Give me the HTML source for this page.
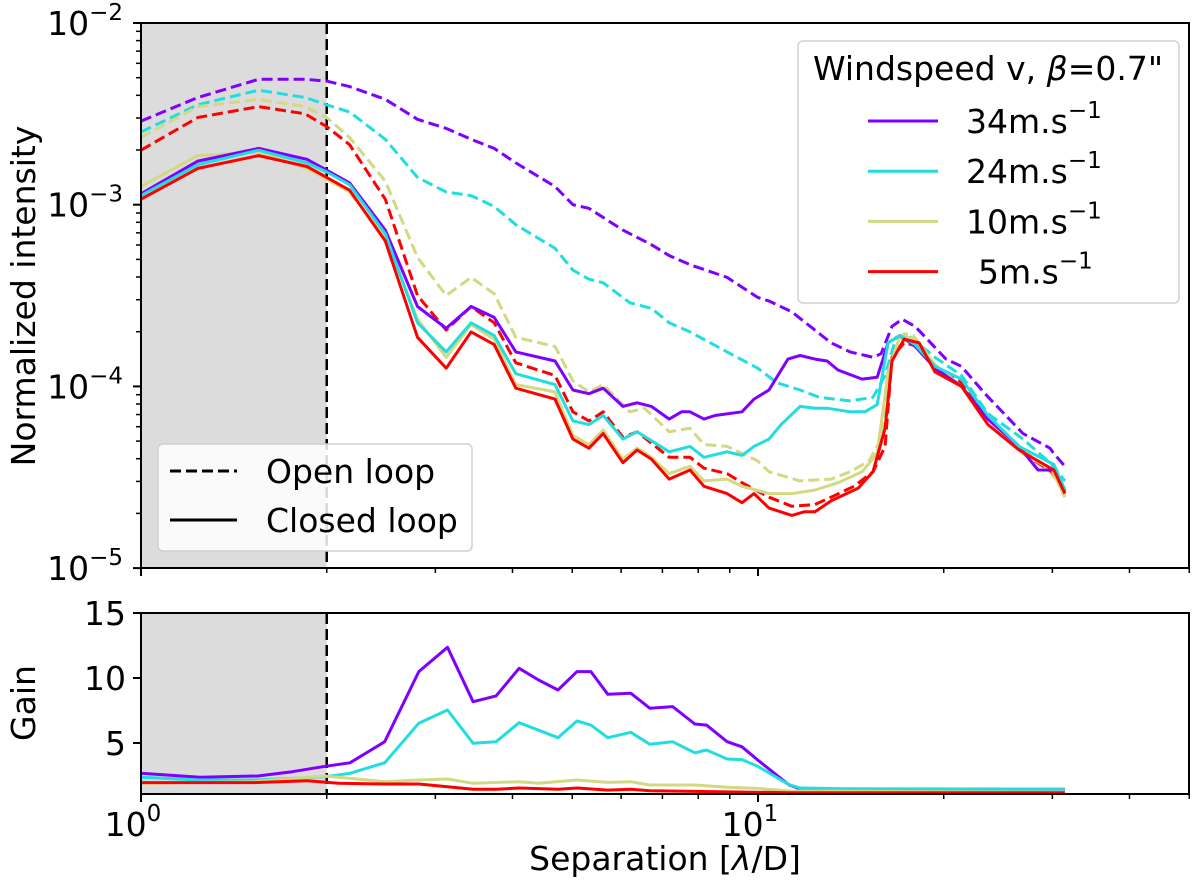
<!DOCTYPE html>
<html><head><meta charset="utf-8"><style>
html,body{margin:0;padding:0;background:#fff;}
svg{display:block;font-family:"DejaVu Sans","Liberation Sans",sans-serif;}
</style></head><body>
<svg id="chart" width="1200" height="889" viewBox="0 0 1200 889" xmlns="http://www.w3.org/2000/svg">
<g id="topPanel"></g>
<g id="botPanel"></g>
<text x="0" y="0" font-size="33" text-anchor="middle" transform="translate(35,296) rotate(-90)">Normalized intensity</text>
<text x="0" y="0" font-size="33" text-anchor="middle" transform="translate(35,703) rotate(-90)">Gain</text>
<text x="665" y="870" font-size="33" text-anchor="middle">Separation [<tspan font-style="italic">λ</tspan>/D]</text>
</svg>
<script>
// ---- data (log10 of normalized intensity) ----
const sepOpen34=[1,1.236,1.551,1.844,2.0,2.178,2.489,2.806,3.123,3.428,3.737,4.05,4.688,5.012,5.32,6.04,6.717,7.18,7.76,8.91,9.99,10.42,11.35,13.13,14.10,15.36,15.83,16.49,17.12,17.97,20.17,21.37,23.33,26.89,29.73,30.17,31.44];
const logOpen34=[-2.54,-2.41,-2.31,-2.31,-2.32,-2.35,-2.42,-2.53,-2.58,-2.64,-2.69,-2.77,-2.90,-3.00,-3.02,-3.14,-3.22,-3.28,-3.33,-3.40,-3.51,-3.53,-3.59,-3.76,-3.81,-3.84,-3.82,-3.67,-3.63,-3.67,-3.85,-3.89,-4.04,-4.26,-4.34,-4.37,-4.44];
const sepOpen24=[1,1.236,1.551,1.844,2.0,2.178,2.489,2.806,3.123,3.428,3.737,4.05,4.688,5.012,5.32,5.612,6.2,6.717,7.18,7.76,8.91,9.99,10.73,11.70,12.56,14.10,15.36,16.07,16.74,17.51,19.36,21.37,23.59,26.89,29.95,31.44];
const logOpen24=[-2.60,-2.45,-2.37,-2.41,-2.45,-2.49,-2.64,-2.85,-2.93,-2.95,-3.01,-3.11,-3.24,-3.36,-3.41,-3.43,-3.54,-3.57,-3.65,-3.70,-3.81,-3.90,-3.98,-4.02,-4.06,-4.08,-4.06,-3.94,-3.73,-3.72,-3.84,-3.94,-4.15,-4.29,-4.43,-4.52];
const sepOpen10=[1,1.236,1.551,1.844,2.0,2.178,2.489,2.806,3.123,3.428,3.737,4.05,4.688,5.012,5.32,5.612,6.2,6.55,7.18,7.76,8.175,8.91,9.99,10.42,11.70,13.13,14.10,15.14,15.83,16.49,17.25,17.84,19.36,21.37,23.59,26.89,29.95,31.44];
const logOpen10=[-2.63,-2.46,-2.42,-2.46,-2.52,-2.63,-2.87,-3.29,-3.50,-3.40,-3.49,-3.73,-3.78,-3.97,-4.03,-3.99,-4.14,-4.12,-4.25,-4.23,-4.32,-4.33,-4.41,-4.47,-4.52,-4.51,-4.47,-4.41,-4.29,-3.84,-3.71,-3.72,-3.88,-4.00,-4.16,-4.35,-4.48,-4.59];
const sepOpen5=[1,1.236,1.551,1.844,2.0,2.178,2.489,2.806,3.123,3.428,3.737,4.05,4.688,5.012,5.32,5.612,6.04,6.368,7.18,7.76,8.175,8.91,9.42,10.42,11.35,12.37,13.13,14.31,15.36,16.07,16.49,17.25,18.24,19.36,21.37,23.59,26.89,29.95,31.44];
const logOpen5=[-2.70,-2.52,-2.46,-2.50,-2.57,-2.67,-2.97,-3.50,-3.69,-3.56,-3.65,-3.87,-3.94,-4.14,-4.19,-4.14,-4.28,-4.25,-4.39,-4.39,-4.45,-4.48,-4.53,-4.61,-4.66,-4.65,-4.61,-4.55,-4.47,-4.33,-3.84,-3.76,-3.78,-3.90,-3.98,-4.18,-4.37,-4.47,-4.57];
const sepClosed34=[1,1.236,1.551,1.857,2.0,2.178,2.489,2.806,3.123,3.428,3.737,4.05,4.688,5.012,5.32,5.612,6.04,6.368,6.717,7.18,7.52,7.76,8.175,8.518,9.42,9.85,10.42,11.18,11.70,12.37,12.94,13.48,14.75,15.60,16.25,16.99,17.97,19.36,21.37,23.59,26.49,28.43,30.17,31.44];
const logClosed34=[-2.94,-2.76,-2.69,-2.75,-2.81,-2.88,-3.14,-3.56,-3.68,-3.56,-3.62,-3.81,-3.86,-4.02,-4.04,-4.01,-4.11,-4.09,-4.11,-4.18,-4.14,-4.14,-4.18,-4.16,-4.14,-4.07,-4.02,-3.85,-3.83,-3.85,-3.86,-3.91,-3.96,-3.95,-3.76,-3.72,-3.78,-3.90,-4.00,-4.18,-4.33,-4.46,-4.46,-4.58];
const sepClosed24=[1,1.236,1.551,1.857,2.0,2.178,2.489,2.806,3.123,3.428,3.737,4.05,4.688,5.012,5.32,5.612,6.04,6.368,7.18,7.76,8.175,8.91,9.42,9.85,10.42,10.90,11.70,12.37,12.94,14.10,14.91,15.60,16.25,16.99,17.97,19.36,21.37,23.59,26.49,30.17,31.44];
const logClosed24=[-2.95,-2.78,-2.70,-2.77,-2.82,-2.89,-3.16,-3.65,-3.81,-3.65,-3.72,-3.93,-3.99,-4.19,-4.21,-4.16,-4.29,-4.25,-4.36,-4.33,-4.39,-4.36,-4.38,-4.33,-4.29,-4.21,-4.11,-4.12,-4.12,-4.14,-4.14,-4.10,-3.76,-3.72,-3.77,-3.89,-3.96,-4.16,-4.33,-4.43,-4.57];
const sepClosed10=[1,1.236,1.551,1.857,2.0,2.178,2.489,2.806,3.123,3.428,3.737,4.05,4.688,5.012,5.32,5.612,6.04,6.368,6.717,7.18,7.76,8.175,8.91,9.42,10.42,11.35,12.37,13.48,14.75,15.60,16.25,16.99,17.97,19.36,21.37,23.59,26.89,29.95,31.44];
const logClosed10=[-2.90,-2.73,-2.71,-2.80,-2.86,-2.93,-3.18,-3.63,-3.84,-3.66,-3.74,-3.99,-4.03,-4.27,-4.32,-4.24,-4.40,-4.34,-4.39,-4.48,-4.44,-4.52,-4.51,-4.55,-4.59,-4.59,-4.57,-4.53,-4.47,-4.37,-3.92,-3.72,-3.74,-3.88,-4.00,-4.18,-4.37,-4.46,-4.61];
const sepClosed5=[1,1.236,1.551,1.857,2.0,2.178,2.489,2.806,3.123,3.428,3.737,4.05,4.688,5.012,5.32,5.612,6.04,6.368,6.717,7.18,7.76,8.175,8.91,9.42,9.85,10.42,11.35,11.88,12.37,13.13,14.53,15.36,16.07,16.49,17.25,18.24,19.36,21.37,23.59,26.49,30.17,31.44];
const logClosed5=[-2.97,-2.80,-2.73,-2.79,-2.85,-2.92,-3.20,-3.73,-3.90,-3.70,-3.77,-4.01,-4.07,-4.29,-4.34,-4.26,-4.42,-4.35,-4.40,-4.51,-4.46,-4.55,-4.59,-4.64,-4.59,-4.67,-4.71,-4.69,-4.69,-4.63,-4.56,-4.47,-4.23,-3.86,-3.74,-3.76,-3.92,-4.00,-4.21,-4.35,-4.46,-4.59];
// ---- gain data ----
const sepGain34=[1.0,1.246,1.546,1.758,1.971,2.181,2.483,2.82,3.139,3.453,3.763,4.10,4.41,4.74,5.09,5.36,5.71,6.22,6.68,7.27,7.90,8.25,8.91,9.42,9.99,11.23,11.70,13.69,17.45,19.63,31.44];
const gain34=[2.67,2.36,2.46,2.79,3.18,3.48,5.10,10.49,12.36,8.18,8.62,10.75,9.85,9.08,10.49,10.49,8.75,8.83,7.67,7.80,6.46,6.38,5.10,4.71,3.69,1.77,1.48,1.44,1.33,1.44,1.44];
const sepGain24=[1.0,1.246,1.546,1.758,1.99,2.181,2.483,2.82,3.139,3.453,3.763,4.10,4.74,5.09,5.36,5.71,6.22,6.68,7.27,7.90,8.25,8.91,9.42,9.99,11.23,11.70,13.69,31.44];
const gain24=[2.36,2.15,2.15,2.28,2.41,2.67,3.48,6.52,7.54,4.98,5.10,6.56,5.41,6.69,6.38,5.41,5.82,4.90,5.10,4.25,4.46,3.77,3.72,3.21,1.79,1.54,1.48,1.46];
const sepGain10=[1.0,1.524,1.99,2.483,2.82,3.139,3.453,4.10,4.41,5.09,5.71,6.22,6.68,7.90,8.91,9.99,11.23,31.44];
const gain10=[1.90,2.02,2.46,2.02,2.15,2.23,1.90,2.02,1.90,2.15,1.97,2.02,1.77,1.77,1.59,1.51,1.31,1.21];
const sepGain5=[1.0,1.524,1.86,2.09,2.483,2.82,3.139,3.453,3.763,4.10,4.74,5.09,5.71,6.22,6.68,11.23,31.44];
const gain5=[1.95,1.95,2.10,1.90,1.85,1.85,1.64,1.44,1.44,1.54,1.44,1.54,1.38,1.44,1.33,1.18,1.18];
const gainTicks=[5,10,15];
const logTicks=[-2,-3,-4,-5];
const xMajor=[1,10];
const legendLabels=["34","24","10"," 5"];

const colors={v34:"#7f00ff",v24:"#22dde0",v10:"#d2d982",v5:"#ff0000"};
const L=141,R=1189,T1=23,B1=568,T2=613,B2=794;
const LW=3, DASH='11,5';
const xS=s=>L+617*Math.log10(s);
const yT=l=>T1+(-2-l)*181.7;
const yG=g=>T2+(15-g)*13;
const NS="http://www.w3.org/2000/svg";
function mk(tag,attrs,parent){const e=document.createElementNS(NS,tag);for(const k in attrs)e.setAttribute(k,attrs[k]);parent.appendChild(e);return e;}
const topG=document.getElementById('topPanel'),botG=document.getElementById('botPanel');

function panel(g,T,B,name){
  const r=mk('rect',{x:L,y:T,width:xS(2)-L,height:B-T,fill:'#dcdcdc'},g);
  
  
  const d=mk('line',{x1:xS(2),x2:xS(2),y1:T,y2:B,stroke:'#000','stroke-width':2.5,'stroke-dasharray':DASH},g);
  
  
}
panel(topG,T1,B1,'top');
panel(botG,T2,B2,'bottom');

function series(g,xs,ys,yf,color,dash,name){
  const pts=xs.map((s,i)=>xS(s).toFixed(1)+','+yf(ys[i]).toFixed(1)).join(' ');
  const p=mk('polyline',{points:pts,fill:'none',stroke:color,'stroke-width':LW,'stroke-linejoin':'round'},g);
  if(dash)p.setAttribute('stroke-dasharray',DASH);
  
  
}
series(topG,sepOpen34,logOpen34,yT,colors.v34,true,'open-loop-34');
series(topG,sepOpen24,logOpen24,yT,colors.v24,true,'open-loop-24');
series(topG,sepOpen10,logOpen10,yT,colors.v10,true,'open-loop-10');
series(topG,sepOpen5,logOpen5,yT,colors.v5,true,'open-loop-5');
series(topG,sepClosed10,logClosed10,yT,colors.v10,false,'closed-loop-10');
series(topG,sepClosed34,logClosed34,yT,colors.v34,false,'closed-loop-34');
series(topG,sepClosed24,logClosed24,yT,colors.v24,false,'closed-loop-24');
series(topG,sepClosed5,logClosed5,yT,colors.v5,false,'closed-loop-5');
series(botG,sepGain34,gain34,yG,colors.v34,false,'gain-34');
series(botG,sepGain24,gain24,yG,colors.v24,false,'gain-24');
series(botG,sepGain10,gain10,yG,colors.v10,false,'gain-10');
series(botG,sepGain5,gain5,yG,colors.v5,false,'gain-5');

// frames
[[topG,T1,B1],[botG,T2,B2]].forEach(([g,T,B],i)=>{
  const f=mk('rect',{x:L,y:T,width:R-L,height:B-T,fill:'none',stroke:'#000','stroke-width':2},g);
  
  
  for(let dec=1;dec<=10;dec*=10){for(let m=1;m<10;m++){const s=m*dec;if(s>50)break;
    const x=xS(s),len=(m===1)?8:5;
    const t=mk('line',{x1:x,x2:x,y1:B,y2:B+len,stroke:'#000','stroke-width':m===1?2:1.5},g);
    
    
  }}
});
// log y ticks
for(let e=-5;e<-2;e++){for(let m=2;m<10;m++){const y=yT(e+Math.log10(m));
  const t=mk('line',{x1:L-5,x2:L,y1:y,y2:y,stroke:'#000','stroke-width':1.5},topG);
  
  }}
logTicks.forEach(e=>{const y=yT(e);
  const t=mk('line',{x1:L-8,x2:L,y1:y,y2:y,stroke:'#000','stroke-width':2},topG);
  
  
  const tx=mk('text',{x:123,y:y+12,'font-size':33,'text-anchor':'end'},topG);
  
  
  tx.innerHTML='10<tspan font-size="23" dy="-15">\u2212'+(-e)+'</tspan>';
});
gainTicks.forEach(v=>{const y=yG(v);
  const t=mk('line',{x1:L-8,x2:L,y1:y,y2:y,stroke:'#000','stroke-width':2},botG);
  
  
  const tx=mk('text',{x:126,y:y+12,'font-size':33,'text-anchor':'end'},botG);
  
  
  tx.textContent=v;
});
xMajor.forEach((s,i)=>{
  const tx=mk('text',{x:xS(s)-8,y:836,'font-size':33,'text-anchor':'middle'},botG);
  
  
  tx.innerHTML='10<tspan font-size="23" dy="-15">'+i+'</tspan>';
});

// legend: windspeed
const lg=mk('g',{},topG);


mk('rect',{x:798,y:41,width:381,height:262,rx:5,fill:'#fff','fill-opacity':0.85,stroke:'#d0d0d0','stroke-width':1.5},lg);
const tt=mk('text',{x:988,y:80,'font-size':33,'text-anchor':'middle'},lg);


tt.innerHTML='Windspeed v, <tspan font-style="italic">β</tspan>=0.7"';
const lc=[colors.v34,colors.v24,colors.v10,colors.v5];
legendLabels.forEach((lab,i)=>{const y=121+50.2*i;
  const ln=mk('line',{x1:868,x2:938,y1:y,y2:y,stroke:lc[i],'stroke-width':LW},lg);
  
  
  const t=mk('text',{x:lab[0]===' '?978:966,y:y+12,'font-size':33},lg);
  
  
  t.innerHTML=lab.trim()+'m.s<tspan font-size="23" dy="-15">\u22121</tspan>';
});
// legend: loop type
const lg2=mk('g',{},topG);


mk('rect',{x:158,y:444,width:314,height:107,rx:5,fill:'#fff','fill-opacity':0.85,stroke:'#d0d0d0','stroke-width':1.5},lg2);
[["Open loop",471,true],["Closed loop",520,false]].forEach(([lab,y,d])=>{
  const ln=mk('line',{x1:170,x2:237,y1:y,y2:y,stroke:'#000','stroke-width':LW},lg2);
  if(d)ln.setAttribute('stroke-dasharray',DASH);
  
  
  const t=mk('text',{x:266,y:y+12,'font-size':33},lg2);
  
  
  t.textContent=lab;
});
</script>
</body></html>
